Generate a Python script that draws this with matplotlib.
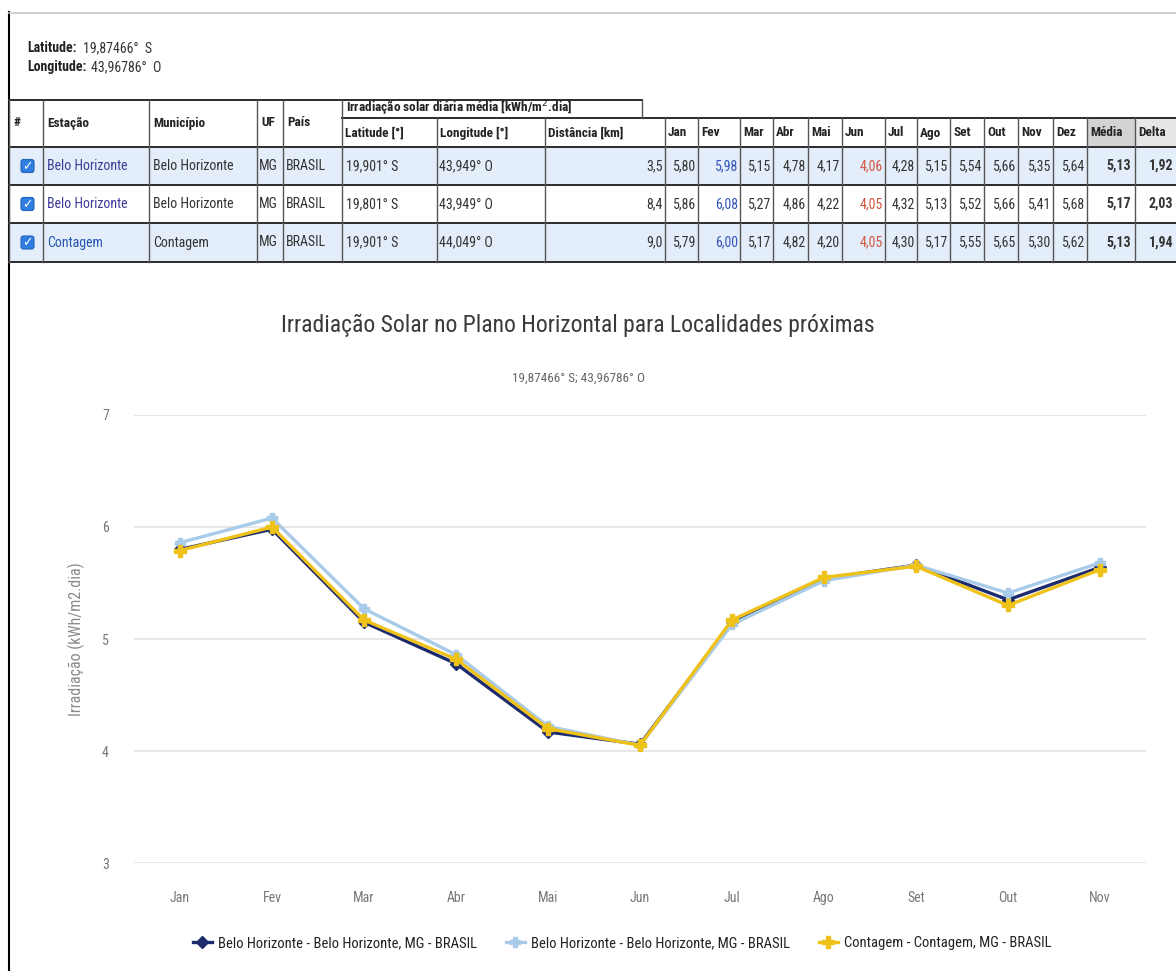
import matplotlib
matplotlib.use("Agg")
import matplotlib.pyplot as plt
from matplotlib.patches import Rectangle, FancyBboxPatch

W, H = 1176, 971
NARROW = ["Liberation Sans Narrow", "Roboto Condensed", "DejaVu Sans"]
plt.rcParams["font.family"] = NARROW

# ---- table data ----
estacoes = ["Belo Horizonte", "Belo Horizonte", "Contagem"]
municipios = ["Belo Horizonte", "Belo Horizonte", "Contagem"]
ufs = ["MG", "MG", "MG"]
paises = ["BRASIL", "BRASIL", "BRASIL"]
lats = ["19,901° S", "19,801° S", "19,901° S"]
lons = ["43,949° O", "43,949° O", "44,049° O"]
dists = ["3,5", "8,4", "9,0"]
meses_tab = ["Jan", "Fev", "Mar", "Abr", "Mai", "Jun", "Jul", "Ago", "Set", "Out", "Nov", "Dez"]
irr_bh1 = [5.80, 5.98, 5.15, 4.78, 4.17, 4.06, 4.28, 5.15, 5.54, 5.66, 5.35, 5.64]
irr_bh2 = [5.86, 6.08, 5.27, 4.86, 4.22, 4.05, 4.32, 5.13, 5.52, 5.66, 5.41, 5.68]
irr_cont = [5.79, 6.00, 5.17, 4.82, 4.20, 4.05, 4.30, 5.17, 5.55, 5.65, 5.30, 5.62]
medias = [5.13, 5.17, 5.13]
deltas = [1.92, 2.03, 1.94]

# ---- chart data (as drawn in the chart) ----
meses_graf = ["Jan", "Fev", "Mar", "Abr", "Mai", "Jun", "Jul", "Ago", "Set", "Out", "Nov"]
serie_bh1 = [5.80, 5.98, 5.15, 4.78, 4.17, 4.06, 5.15, 5.54, 5.66, 5.35, 5.64]
serie_bh2 = [5.86, 6.08, 5.27, 4.86, 4.22, 4.05, 5.13, 5.52, 5.66, 5.41, 5.68]
serie_cont = [5.79, 6.00, 5.17, 4.82, 4.20, 4.05, 5.17, 5.55, 5.65, 5.30, 5.62]
nomes = ["Belo Horizonte - Belo Horizonte, MG - BRASIL",
         "Belo Horizonte - Belo Horizonte, MG - BRASIL",
         "Contagem - Contagem, MG - BRASIL"]


def fmt(v):
    return f"{v:.2f}".replace(".", ",")


fig = plt.figure(figsize=(W / 100, H / 100), dpi=100)
tax = fig.add_axes([0, 0, 1, 1])
tax.set_xlim(0, W)
tax.set_ylim(H, 0)
tax.axis("off")

# page frame
tax.plot([9, 9], [12, H], color="black", lw=1.5)
tax.plot([9, W], [13, 13], color="#c8c8c8", lw=1.2)

tax.text(27, 48, "Latitude:", fontsize=10, weight="bold", color="#222", va="center")
tax.text(27 + 56, 48, "19,87466°  S", fontsize=10, color="#333", va="center")
tax.text(27, 67, "Longitude:", fontsize=10, weight="bold", color="#222", va="center")
tax.text(27 + 64, 67, "43,96786°  O", fontsize=10, color="#333", va="center")

# ---- table ----
cx = [9, 43, 149, 257, 283, 342, 437, 545, 665, 698, 740, 773, 808, 842,
      885, 917, 950, 984, 1018, 1053, 1087, 1135, 1190]
y_top, y_sub, y_head = 100, 118, 147
row_edges = [147, 185, 223, 262]

for r in (0, 2):
    tax.add_patch(Rectangle((9, row_edges[r]), W, row_edges[r + 1] - row_edges[r],
                            color="#e4eefa", lw=0))
tax.add_patch(Rectangle((cx[20], y_sub), cx[21] - cx[20], y_head - y_sub, color="#d3d3d3", lw=0))
tax.add_patch(Rectangle((cx[21], y_sub), cx[22] - cx[21], y_head - y_sub, color="#e6e6e6", lw=0))

hl = dict(color="#2b2b2b", lw=1.4)
tax.plot([9, 642], [y_top, y_top], **hl)
tax.plot([342, W], [y_sub, y_sub], **hl)
for y in row_edges:
    tax.plot([9, W], [y, y], **hl)
vl = dict(color="#555555", lw=1.0)
for i, x in enumerate(cx[:-1]):
    top = y_top if i <= 5 else y_sub
    tax.plot([x, x], [top, row_edges[-1]], **vl)
tax.plot([642, 642], [y_top, y_sub], **vl)

hf = dict(fontsize=9.5, weight="bold", color="#222", va="center")
tax.text(13, 123, "#", **hf)
for x, t in zip(cx[1:5], ["Estação", "Município", "UF", "País"]):
    tax.text(x + 4, 123, t, **hf)
tax.text(346, 108, "Irradiação solar diária média [kWh/m$^2$.dia]", **hf)
sub = ["Latitude [°]", "Longitude [°]", "Distância [km]"] + meses_tab + ["Média", "Delta"]
for x, t in zip(cx[5:], sub):
    tax.text(x + 3, 133, t, **hf)

link_cor = ["#3d3d99", "#3d3d99", "#2456b0"]
for r, valores in enumerate([irr_bh1, irr_bh2, irr_cont]):
    yc = (row_edges[r] + row_edges[r + 1]) / 2
    tax.add_patch(FancyBboxPatch((21, yc - 6.5), 13, 13, boxstyle="round,pad=0,rounding_size=2.5",
                                 fc="#2f7ee0", ec="#1f62b8", lw=0.8))
    tax.text(27.5, yc + 0.5, "✓", fontsize=9, color="white", weight="bold",
             ha="center", va="center", family="DejaVu Sans")
    bf = dict(fontsize=10, va="center", color="#333")
    tax.text(cx[1] + 4, yc, estacoes[r], **{**bf, "color": link_cor[r]})
    tax.text(cx[2] + 4, yc, municipios[r], **bf)
    tax.text(cx[3] + 2, yc, ufs[r], **bf)
    tax.text(cx[4] + 3, yc, paises[r], **bf)
    tax.text(cx[5] + 4, yc, lats[r], **bf)
    tax.text(cx[6] + 2, yc, lons[r], **bf)
    tax.text(cx[8] - 2, yc, dists[r], ha="right", **bf)
    for m, v in enumerate(valores):
        cor = "#3355bb" if m == 1 else ("#d0553f" if m == 5 else "#333")
        tax.text(cx[9 + m] - 2, yc, fmt(v), ha="right", **{**bf, "color": cor})
    tax.text(cx[21] - 4, yc, fmt(medias[r]), ha="right", weight="bold", **bf)
    tax.text(W - 3, yc, fmt(deltas[r]), ha="right", weight="bold", **bf)

# ---- chart ----
x0, x1, yb, yt = 134, 1146, 863, 415
ax = fig.add_axes([x0 / W, (H - yb) / H, (x1 - x0) / W, (yb - yt) / H])
ax.set_facecolor("none")
xs = list(range(len(meses_graf)))
ax.plot(xs, serie_bh1, color="#1c2b6e", lw=2.4, marker="D", ms=6, label=nomes[0], zorder=3)
ax.plot(xs, serie_bh2, color="#a9cbea", lw=2.4, marker="P", ms=7, label=nomes[1], zorder=4)
ax.plot(xs, serie_cont, color="#efc21a", lw=2.4, marker="P", ms=8, label=nomes[2], zorder=5)
ax.set_xlim(-0.5, len(meses_graf) - 0.5)
ax.set_ylim(3, 7)
ax.set_yticks([3, 4, 5, 6, 7])
ax.set_xticks(xs)
ax.set_xticklabels(meses_graf)
ax.grid(axis="y", color="#e3e3e3", lw=1.2)
ax.set_axisbelow(True)
for s in ax.spines.values():
    s.set_visible(False)
ax.tick_params(length=0, colors="#777", labelsize=10)
ax.tick_params(axis="x", pad=20)
ax.tick_params(axis="y", pad=18)
ax.set_ylabel("Irradiação (kWh/m2.dia)", fontsize=11.5, color="#8a8a8a", labelpad=12)

fig.text(578 / W, 1 - 325 / H, "Irradiação Solar no Plano Horizontal para Localidades próximas",
         ha="center", va="center", fontsize=17, color="#3a3a3a")
fig.text(578 / W, 1 - 378 / H, "19,87466° S; 43,96786° O",
         ha="center", va="center", fontsize=9.5, color="#666")

fig.legend(loc="center", bbox_to_anchor=(622 / W, 1 - 943 / H), ncol=3, frameon=False,
           fontsize=10.5, handlelength=1.3, handletextpad=0.4, columnspacing=2.0,
           labelcolor="#222")

fig.savefig("out.png", dpi=100)
